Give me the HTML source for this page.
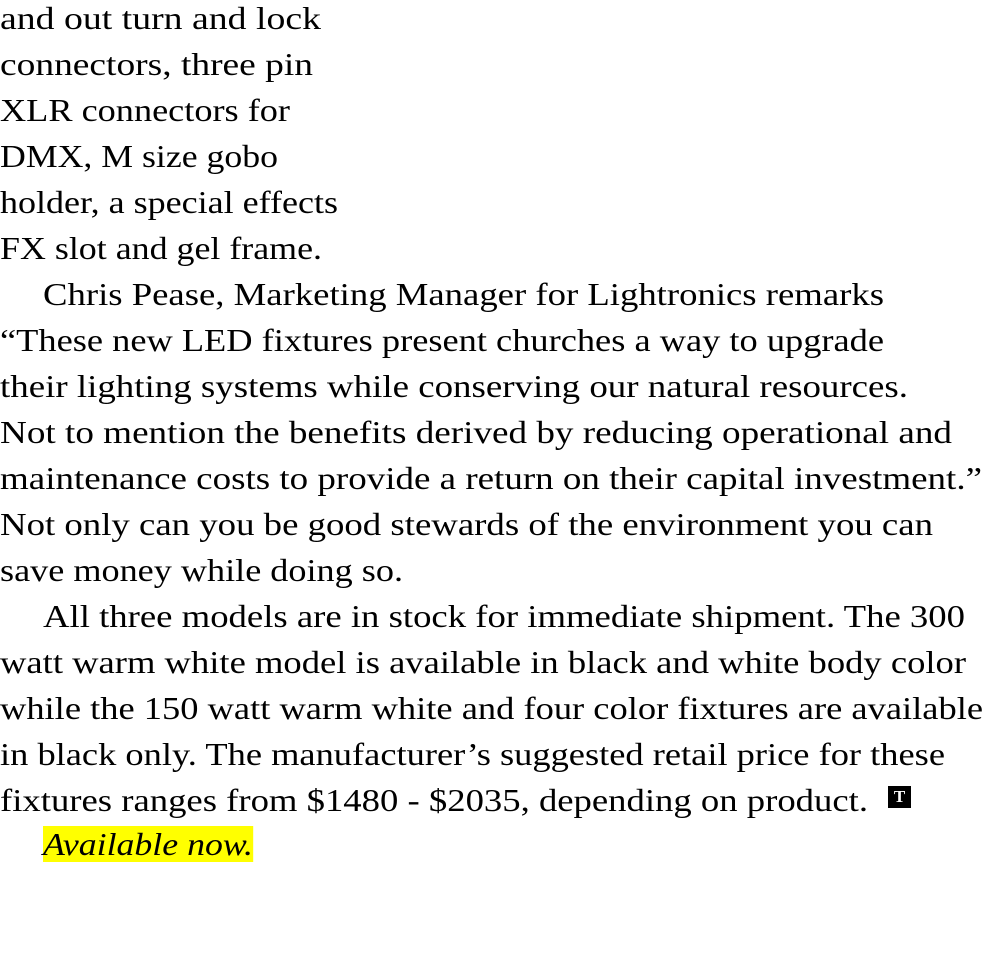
<!DOCTYPE html>
<html><head><meta charset="utf-8"><style>
body{margin:0;width:990px;height:980px;background:#fff;overflow:hidden;position:relative}
.l{position:absolute;left:0;white-space:nowrap;font-family:"Liberation Serif",serif;font-size:32px;line-height:46px;color:#000}
.l span{display:inline-block;transform-origin:0 0;transform:scaleX(1.13)}
.i{left:43px}
.t{position:absolute;left:888px;top:786px;width:23px;height:22px;background:#000;color:#fff;font-size:17px;line-height:22px;text-align:center;font-weight:bold;font-family:"Liberation Serif",serif}
.l span.hl{background:#ffff00;font-style:italic;line-height:36px}
</style></head><body>
<div class="l" style="top:-5px" data-w="321"><span>and out turn and lock</span></div>
<div class="l" style="top:41px" data-w="313"><span>connectors, three pin</span></div>
<div class="l" style="top:87px" data-w="290"><span>XLR connectors for</span></div>
<div class="l" style="top:133px" data-w="278"><span>DMX, M size gobo</span></div>
<div class="l" style="top:179px" data-w="338"><span>holder, a special effects</span></div>
<div class="l" style="top:225px" data-w="322"><span>FX slot and gel frame.</span></div>
<div class="l i" style="top:271px" data-w="841"><span>Chris Pease, Marketing Manager for Lightronics remarks</span></div>
<div class="l" style="top:317px" data-w="884"><span>“These new LED fixtures present churches a way to upgrade</span></div>
<div class="l" style="top:363px" data-w="908"><span>their lighting systems while conserving our natural resources.</span></div>
<div class="l" style="top:409px" data-w="952"><span>Not to mention the benefits derived by reducing operational and</span></div>
<div class="l" style="top:455px" data-w="982"><span>maintenance costs to provide a return on their capital investment.”</span></div>
<div class="l" style="top:501px" data-w="933"><span>Not only can you be good stewards of the environment you can</span></div>
<div class="l" style="top:547px" data-w="403"><span>save money while doing so.</span></div>
<div class="l i" style="top:593px" data-w="922"><span>All three models are in stock for immediate shipment. The 300</span></div>
<div class="l" style="top:639px" data-w="966"><span>watt warm white model is available in black and white body color</span></div>
<div class="l" style="top:685px" data-w="983"><span>while the 150 watt warm white and four color fixtures are available</span></div>
<div class="l" style="top:731px" data-w="945"><span>in black only. The manufacturer’s suggested retail price for these</span></div>
<div class="l" style="top:777px" data-w="868"><span>fixtures ranges from $1480 - $2035, depending on product.</span></div>
<div class="t">T</div>
<div class="l i" style="top:826px;line-height:36px" data-w="210"><span class="hl">Available now.</span></div>
<script>
document.querySelectorAll('.l').forEach(function(d){
  var s=d.firstElementChild; s.style.transform='none';
  var w=s.getBoundingClientRect().width;
  s.style.transform='scaleX('+(parseFloat(d.getAttribute('data-w'))/w)+')';
});
</script>
</body></html>
